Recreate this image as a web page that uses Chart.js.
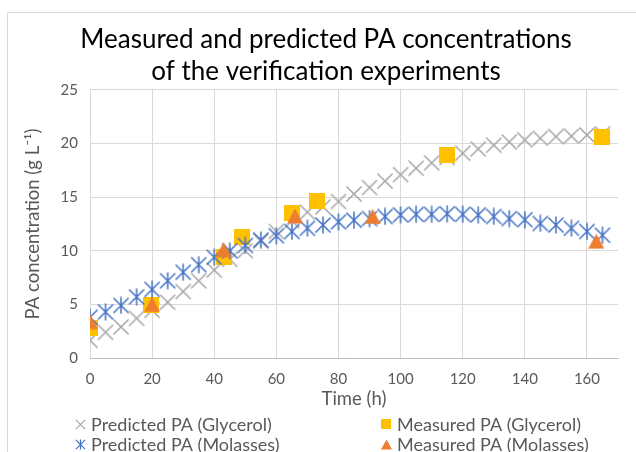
<!DOCTYPE html>
<html>
<head>
<meta charset="utf-8">
<script src="https://cdn.jsdelivr.net/npm/chart.js@4.4.1/dist/chart.umd.min.js"></script>
<style>
  html, body { margin: 0; padding: 0; background: #fff; }
  #wrap { width: 636px; height: 452px; position: relative; }
</style>
</head>
<body>
<div id="wrap"><canvas id="chart" width="636" height="452"></canvas></div>
<script>
// --- data ---
const titleLines = ['Measured and predicted PA concentrations', 'of the verification experiments'];
const xTitle = 'Time (h)';
const yTitle = 'PA concentration (g L⁻¹)';
const xTicks = [0, 20, 40, 60, 80, 100, 120, 140, 160];
const yTicks = [0, 5, 10, 15, 20, 25];
const seriesLabels = ['Predicted PA (Glycerol)', 'Measured PA (Glycerol)', 'Predicted PA (Molasses)', 'Measured PA (Molasses)'];

const predTime = [0, 5, 10, 15, 20, 25, 30, 35, 40, 45, 50, 55, 60, 65, 70, 75, 80, 85, 90, 95,
                  100, 105, 110, 115, 120, 125, 130, 135, 140, 145, 150, 155, 160, 165];
const predGlycerol = [1.65, 2.4, 2.9, 3.7, 4.45, 5.2, 6.2, 7.2, 8.2, 9.2, 10.0, 10.9, 11.8, 12.8, 13.6, 14.1, 14.6, 15.3, 15.9, 16.5,
                      17.1, 17.7, 18.2, 18.7, 19.1, 19.5, 19.85, 20.15, 20.35, 20.5, 20.65, 20.7, 20.8, 20.9];
const predMolasses = [3.8, 4.3, 4.9, 5.7, 6.4, 7.2, 8.0, 8.7, 9.4, 10.0, 10.5, 11.0, 11.4, 11.8, 12.1, 12.4, 12.7, 12.85, 13.0, 13.2,
                      13.35, 13.4, 13.4, 13.45, 13.4, 13.35, 13.2, 13.0, 12.9, 12.55, 12.4, 12.1, 11.8, 11.45];

const measGlyTime = [0, 19.5, 43, 49, 65, 73, 115, 165];
const measGlycerol = [2.8, 4.9, 9.4, 11.3, 13.5, 14.6, 18.95, 20.6];
const measMolTime = [0, 20, 43, 66, 91, 163];
const measMolasses = [3.4, 5.0, 10.1, 13.25, 13.2, 10.9];

const FONT = 'Lato, "Liberation Sans", sans-serif';
const TEXT = '#595959';

// excel-like markers drawn on small canvases (star = X plus a vertical bar)
function makeMarker(kind, size) {
    const c = document.createElement('canvas');
    c.width = c.height = size;
    const g = c.getContext('2d');
    const m = size / 2;
    if (kind === 'cross' || kind === 'star') {
        g.strokeStyle = kind === 'cross' ? '#A5A5A5' : '#4472C4';
        g.lineWidth = size > 12 ? 1.5 : 1.2;
        const a = size * 0.42;
        g.beginPath();
        g.moveTo(m - a, m - a); g.lineTo(m + a, m + a);
        g.moveTo(m + a, m - a); g.lineTo(m - a, m + a);
        if (kind === 'star') { g.moveTo(m, 0.5); g.lineTo(m, size - 0.5); }
        g.stroke();
    } else if (kind === 'square') {
        g.fillStyle = '#FFC000';
        g.fillRect(0, 0, size, size);
    } else {
        g.fillStyle = '#ED7D31';
        g.beginPath();
        g.moveTo(m, 0.5); g.lineTo(size, size - 0.5); g.lineTo(0, size - 0.5);
        g.closePath();
        g.fill();
    }
    return c;
}

function toPoints(xs, ys) {
    return xs.map((x, i) => ({ x: x, y: ys[i] }));
}

// thin frame round the chart like the spreadsheet chart box
const framePlugin = {
    id: 'frame',
    beforeDraw(chart) {
        const ctx = chart.ctx;
        ctx.save();
        ctx.strokeStyle = '#D9D9D9';
        ctx.lineWidth = 1;
        ctx.beginPath();
        ctx.moveTo(7.5, 460);
        ctx.lineTo(7.5, 12.5);
        ctx.lineTo(640, 12.5);
        ctx.stroke();
        ctx.restore();
    }
};

// two-column legend under the axis
const legendPlugin = {
    id: 'sheetLegend',
    afterDraw(chart) {
        const ctx = chart.ctx;
        const slots = [[80, 424], [386, 424], [80, 444], [386, 444]];
        ctx.save();
        ctx.font = '18px ' + FONT;
        ctx.fillStyle = TEXT;
        ctx.textBaseline = 'middle';
        chart.data.datasets.forEach(ds => {
            const [x, y] = slots[ds.slot];
            const icon = ds.legendIcon;
            ctx.drawImage(icon, Math.round(x - icon.width / 2), Math.round(y - icon.height / 2));
            ctx.fillText(ds.label, x + 11, y + 1);
        });
        ctx.restore();
    }
};

const ctx = document.getElementById('chart');
new Chart(ctx, {
    type: 'scatter',
    data: {
        datasets: [{
            label: seriesLabels[3],
            data: toPoints(measMolTime, measMolasses),
            pointStyle: makeMarker('triangle', 16),
            legendIcon: makeMarker('triangle', 11),
            slot: 3,
            pointRadius: 8
        }, {
            label: seriesLabels[2],
            data: toPoints(predTime, predMolasses),
            pointStyle: makeMarker('star', 18),
            legendIcon: makeMarker('star', 11),
            slot: 2,
            pointRadius: 8
        }, {
            label: seriesLabels[1],
            data: toPoints(measGlyTime, measGlycerol),
            pointStyle: makeMarker('square', 16),
            legendIcon: makeMarker('square', 10),
            slot: 1,
            pointRadius: 8
        }, {
            label: seriesLabels[0],
            data: toPoints(predTime, predGlycerol),
            pointStyle: makeMarker('cross', 18),
            legendIcon: makeMarker('cross', 11),
            slot: 0,
            pointRadius: 8
        }]
    },
    options: {
        responsive: false,
        animation: false,
        devicePixelRatio: 1,
        layout: { padding: { left: 34, right: 18, top: 0, bottom: 42 } },
        plugins: {
            legend: { display: false },
            tooltip: { enabled: false },
            title: {
                display: true,
                text: titleLines,
                color: '#000',
                font: { family: FONT, size: 26, weight: 'normal', lineHeight: 1.23 },
                padding: { top: 24, bottom: 2 }
            }
        },
        scales: {
            x: {
                type: 'linear',
                min: 0,
                max: 170,
                afterBuildTicks: s => { s.ticks = xTicks.map(v => ({ value: v })); },
                afterFit: s => { s.height = 52; },
                grid: { color: '#D9D9D9', drawTicks: false },
                border: { color: '#BFBFBF', width: 1 },
                ticks: { color: TEXT, font: { family: FONT, size: 15 }, padding: 12, maxRotation: 0 },
                title: { display: true, text: xTitle, color: TEXT, font: { family: FONT, size: 18.5 }, padding: 0 }
            },
            y: {
                min: 0,
                max: 25,
                afterBuildTicks: s => { s.ticks = yTicks.map(v => ({ value: v })); },
                afterFit: s => { s.width = 56; },
                grid: { color: '#D9D9D9', drawTicks: false },
                border: { display: false },
                ticks: { color: TEXT, font: { family: FONT, size: 15 }, padding: 12 },
                title: { display: true, text: yTitle, color: TEXT, font: { family: FONT, size: 18.5 }, padding: { top: -12, bottom: 0 } }
            }
        }
    },
    plugins: [framePlugin, legendPlugin]
});
</script>
</body>
</html>
